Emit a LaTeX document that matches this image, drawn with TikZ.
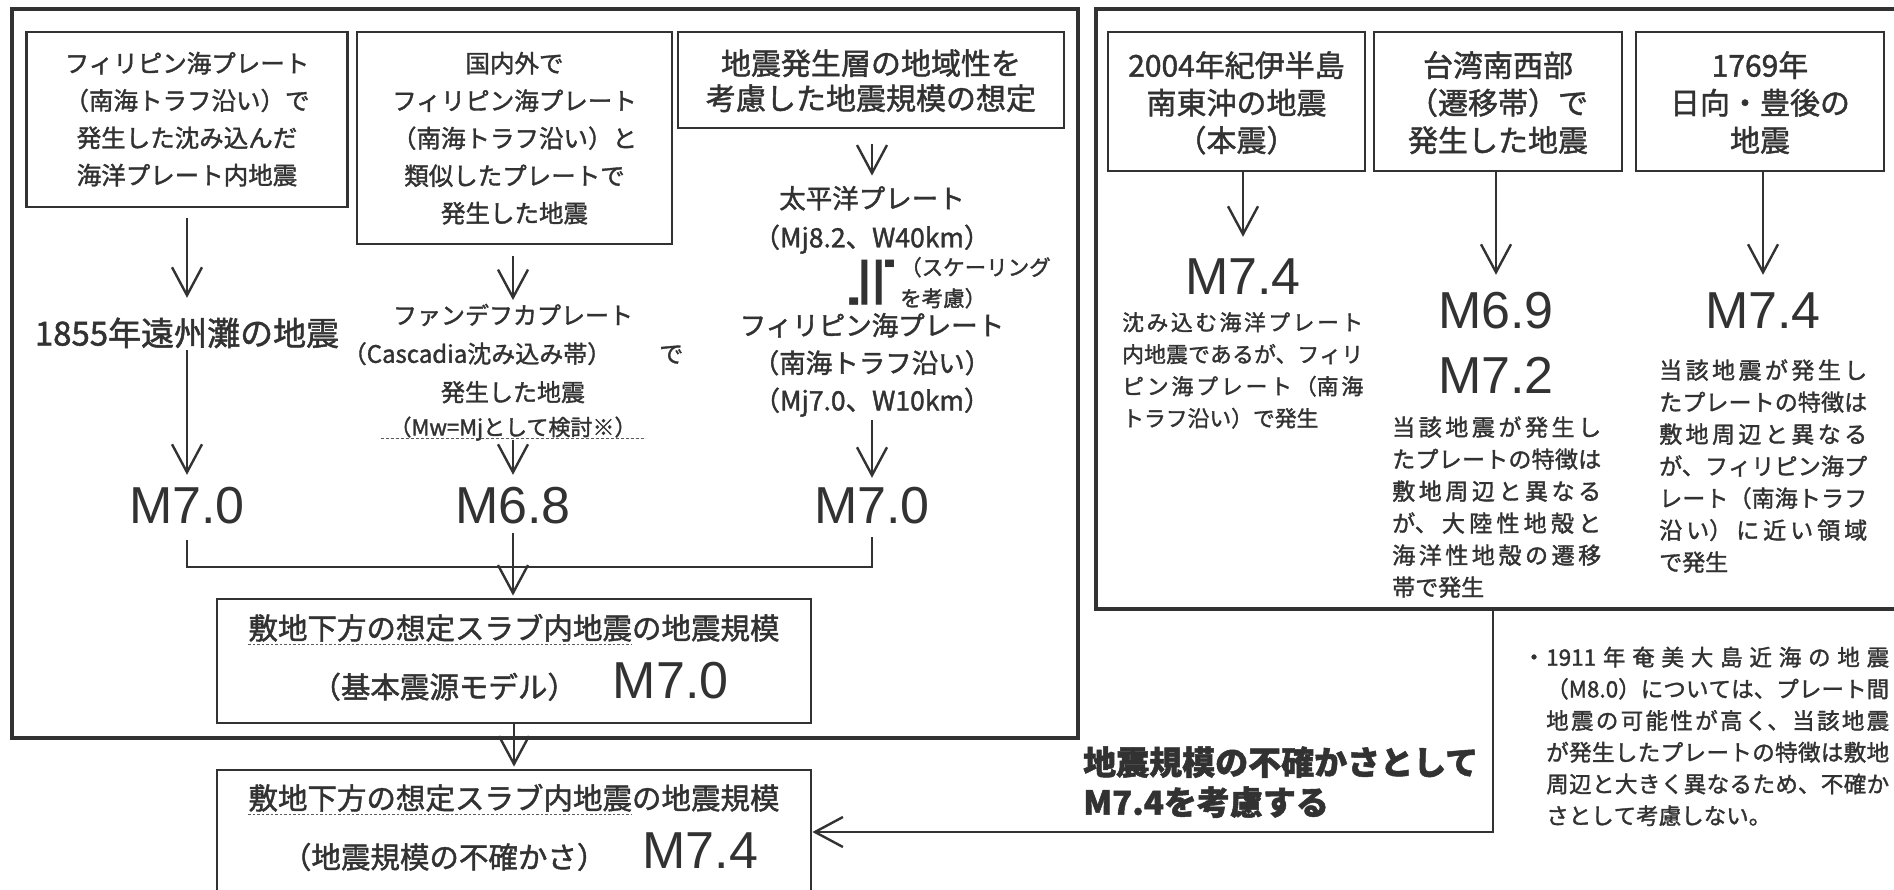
\documentclass[tikz,border=0pt]{standalone}
\usepackage{fontspec}
\setmainfont{Noto Sans CJK JP}
\newfontfamily\jp{Noto Sans CJK JP}[FakeBold=1.5]
\newfontfamily\lat{Liberation Sans}
\newfontfamily\dv{DejaVu Sans}
\usetikzlibrary{arrows.meta,calc}
\definecolor{ink}{RGB}{50,50,50}
\newcommand\fl{\rule{0pt}{1em}}
\newcommand\ld{\rule[-0.3em]{0pt}{0.3em}}
\newcommand\fs[2]{\fontsize{#1}{#2}\selectfont}
\newcommand\jajust{\XeTeXlinebreaklocale "ja"\XeTeXlinebreakskip=0pt plus 6pt\relax\tolerance=9999\relax\parindent=0pt\relax}
\begin{document}
\begin{tikzpicture}[x=1pt,y=-1pt,
  every node/.style={inner sep=0pt, text=ink},
  box/.style={draw=ink, line width=2.8pt, rectangle},
  outer/.style={draw=ink, line width=3.3pt, rectangle},
  arr/.style={draw=ink, line width=2.4pt, -{Straight Barb[length=28pt,width=30pt]}},
  conn/.style={draw=ink, line width=2.8pt},
  mval/.style={font=\lat\fs{52}{60}, text height=38pt, text depth=0pt, anchor=base},
  ctext/.style={anchor=north, align=center},
  jtext/.style={anchor=north west, align=justify},
  ul/.style={draw=ink!80, line width=1.1pt, dash pattern=on 2.5pt off 2pt},
  dots/.style={draw=ink!80, line width=1.3pt, dash pattern=on 3pt off 2pt}]
\useasboundingbox (0,0) rectangle (1894,890);
\clip (0,0) rectangle (1894,890);
\fill[white] (0,0) rectangle (1894,890);

% outer frames
\node[outer, minimum width=1066pt, minimum height=729pt] (OL) at (545,373.5) {};
\node[outer, minimum width=804pt, minimum height=600pt] (OR) at (1498,309) {};

% top boxes left
\node[box, minimum width=321pt, minimum height=175pt] (b1) at (187,119.5) {};
\node[ctext, font=\jp\fs{24.5}{37.3}] (b1t) at (187,47.8)
  {\fl フィリピン海プレート\\（南海トラフ沿い）で\\発生した沈み込んだ\\海洋プレート内地震};
\node[box, minimum width=315pt, minimum height=212pt] (b2) at (514.5,138) {};
\node[ctext, font=\jp\fs{24.5}{37.5}] (b2t) at (514.5,47.8)
  {\fl 国内外で\\フィリピン海プレート\\（南海トラフ沿い）と\\類似したプレートで\\発生した地震};
\node[box, minimum width=386pt, minimum height=96pt] (b3) at (871,80) {};
\node[ctext, font=\jp\fs{30}{35}] (b3t) at (871,44.4)
  {\fl 地震発生層の地域性を\\考慮した地震規模の想定};

% column 1
\node[anchor=base, font=\jp\fs{33}{40}, text height=28pt, text depth=3pt] (t1855) at (187,345.5) {1855年遠州灘の地震};
\node[mval] (m1) at (187,523) {M7.0};
\draw[arr, shorten <=10pt, shorten >=19.5pt] (b1.south) -- (t1855.north);
\draw[arr, shorten <=1.5pt, shorten >=10pt] (t1855.south) -- (m1.north);

% column 2
\node[ctext, font=\jp\fs{24}{38.5}] (fan) at (513,300.1)
  {\fl ファンデフカプレート\\（Cascadia沈み込み帯）\hspace{48pt}で\\発生した地震};
\node[anchor=base, font=\jp\fs{22}{26}, text height=17pt, text depth=4pt] (tMw) at (513,435.4) {（Mw=Mjとして検討※）};
\draw[dots] ($(tMw.base)+(-132.5,3)$) -- ++(265,0);
\node[mval] (m2) at (513,523) {M6.8};
\draw[arr, shorten <=11pt] (b2.south -| fan.north) -- (fan.north);
\draw[arr, shorten >=10pt] (tMw.south) -- (m2.north);

% column 3
\node[ctext, font=\jp\fs{26.5}{39}] (rc1) at (872,181.6)
  {\fl 太平洋プレート\\（Mj8.2、W40km）};
\node[font=\dv\fs{72}{72}, rotate=-90] (approx) at (872,283) {≒};
\node[anchor=north west, align=left, font=\jp\fs{21.5}{31}] (scal) at (900,253.7)
  {\fl （スケーリング\\を考慮）};
\node[ctext, font=\jp\fs{26.5}{37.5}] (rc2) at (872,308.6)
  {\fl フィリピン海プレート\\（南海トラフ沿い）\\（Mj7.0、W10km）\ld};
\node[mval] (m3) at (872,523) {M7.0};
\draw[arr, shorten <=15pt, shorten >=6pt] (b3.south -| rc1.north) -- (rc1.north);
\draw[arr, shorten <=2pt, shorten >=7pt] (rc2.south) -- (m3.north);

% join to basic model
\coordinate (join) at (513,567);
\draw[conn, shorten <=17pt, shorten >=14pt] (m1.south) |- (join) -| (m3.south);
\node[box, minimum width=594pt, minimum height=124pt] (mid) at (514,661) {};
\node[anchor=base, font=\jp\fs{29.5}{36}] (mid1) at (514,639.2) {敷地下方の想定スラブ内地震の地震規模};
\node[anchor=base, font=\jp\fs{29.5}{36}] (mid2) at (520,698) {（基本震源モデル）\hspace{36pt}{\lat\fs{52}{60}M7.0}};
\draw[ul] ($(mid1.base west)+(0,5)$) -- ++(383.5,0);
\draw[arr, shorten <=10pt, shorten >=2pt] (m2.south) -- (m2.south |- mid.north);

% uncertainty box
\node[box, minimum width=594pt, minimum height=140pt] (bot) at (514,840) {};
\node[anchor=base, font=\jp\fs{29.5}{36}] (bot1) at (514,809.2) {敷地下方の想定スラブ内地震の地震規模};
\node[anchor=base, font=\jp\fs{29.5}{36}] (bot2) at (520,868.2) {（地震規模の不確かさ）\hspace{36pt}{\lat\fs{52}{60}M7.4}};
\draw[ul] ($(bot1.base west)+(0,5)$) -- ++(383.5,0);
\draw[arr, shorten >=2pt] (mid.south) -- (bot.north);

% right side boxes
\node[box, minimum width=257pt, minimum height=139pt] (bA) at (1236.5,101.5) {};
\node[ctext, font=\jp\fs{30}{37.5}] (bAt) at (1236.5,46.4)
  {\fl 2004年紀伊半島\\南東沖の地震\\（本震）};
\node[box, minimum width=248pt, minimum height=139pt] (bB) at (1498,101.5) {};
\node[ctext, font=\jp\fs{30}{37.5}] (bBt) at (1498,46.4)
  {\fl 台湾南西部\\（遷移帯）で\\発生した地震};
\node[box, minimum width=248pt, minimum height=139pt] (bC) at (1760,101.5) {};
\node[ctext, font=\jp\fs{30}{37.5}] (bCt) at (1760,46.4)
  {\fl 1769年\\日向・豊後の\\地震};

\node[mval] (mA) at (1243,295) {M7.4};
\node[mval] (mB) at (1496,329) {M6.9};
\node[mval] (mB2) at (1496,393) {M7.2};
\node[mval] (mC) at (1763,329) {M7.4};
\draw[arr, shorten >=20pt] (bA.south -| mA.north) -- (mA.north);
\draw[arr, shorten >=16pt] (bB.south -| mB.north) -- (mB.north);
\draw[arr, shorten >=16pt] (bC.south -| mC.north) -- (mC.north);

\node[jtext, text width=241pt, font=\jp\fs{21.8}{32}\jajust] (tA) at (1122,308.5)
  {\fl 沈み込む海洋プレート\linebreak 内地震であるが、フィリ\linebreak ピン海プレート（南海\linebreak トラフ沿い）で発生};
\node[jtext, text width=209pt, font=\jp\fs{23}{32}\jajust] (tB) at (1392,412.7)
  {\fl 当該地震が発生し\linebreak たプレートの特徴は\linebreak 敷地周辺と異なる\linebreak が、大陸性地殻と\linebreak 海洋性地殻の遷移\linebreak 帯で発生};
\node[jtext, text width=208pt, font=\jp\fs{23}{32}\jajust] (tC) at (1659,355.7)
  {\fl 当該地震が発生し\linebreak たプレートの特徴は\linebreak 敷地周辺と異なる\linebreak が、フィリピン海プ\linebreak レート（南海トラフ\linebreak 沿い）に近い領域\linebreak で発生};

% uncertainty arrow and label
\coordinate (elbow) at (1493,832);
\draw[arr] (OR.south -| elbow) -- (elbow) -- (elbow -| bot.east);
\node[anchor=north west, align=left, font=\jp\bfseries\fs{33}{40}] (bold) at (1083,741.5)
  {\fl 地震規模の不確かさとして\\M7.4を考慮する};

% note
\node[anchor=base, font=\jp\fs{22.5}{30}] (bullet) at (1534,665.5) {・};
\node[jtext, text width=343pt, font=\jp\fs{22.5}{31.7}\jajust] (note) at (1546,643)
  {\fl 1911年奄美大島近海の地震\linebreak （M8.0）については、プレート間\linebreak 地震の可能性が高く、当該地震\linebreak が発生したプレートの特徴は敷地\linebreak 周辺と大きく異なるため、不確か\linebreak さとして考慮しない。};
\end{tikzpicture}
\end{document}
